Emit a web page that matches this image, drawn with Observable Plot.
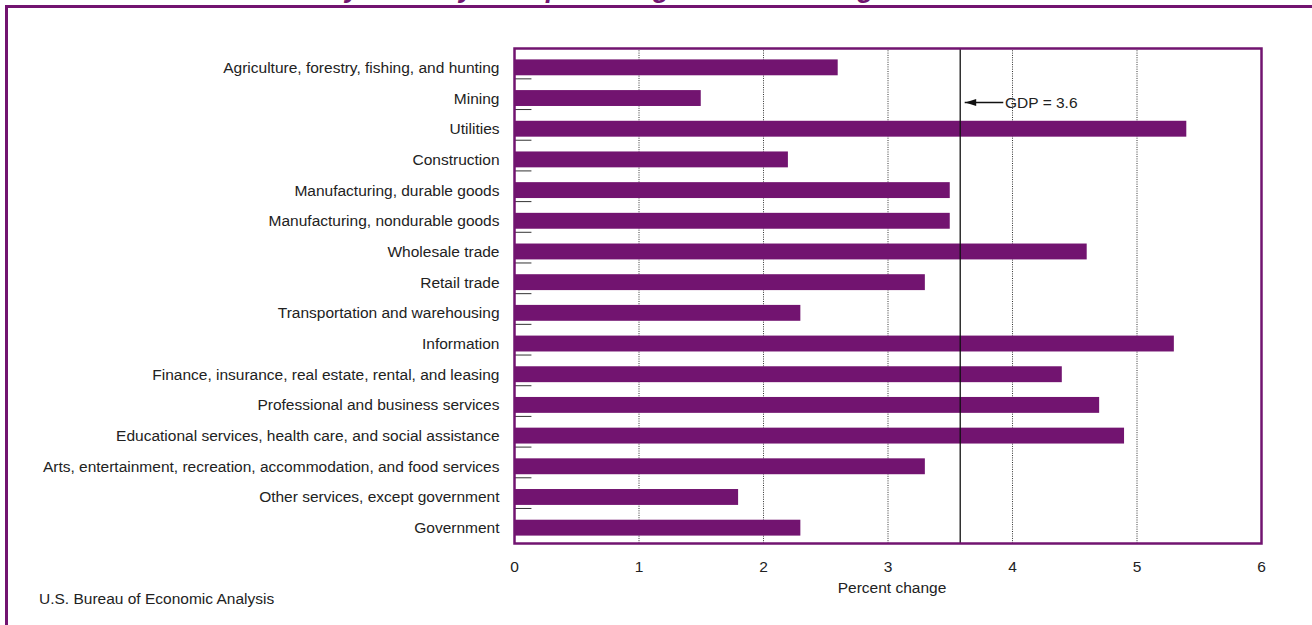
<!DOCTYPE html>
<html>
<head>
<meta charset="utf-8">
<script src="https://cdn.jsdelivr.net/npm/d3@7"></script>
<script src="https://cdn.jsdelivr.net/npm/@observablehq/plot@0.6"></script>
<style>
  html, body { margin: 0; padding: 0; background: #fff; overflow: hidden; }
  #wrap { position: relative; width: 1312px; height: 625px; overflow: hidden; font-family: "Liberation Sans", Arial, sans-serif; }
  #title { position: absolute; left: 95px; top: -25px; white-space: nowrap; font: italic bold 27px "Liberation Sans", Arial, sans-serif; line-height: 27px; color: #721470; }
  #border { position: absolute; left: 5px; top: 5px; width: 1400px; height: 700px; border: 3px solid #721470; }
  #chart { position: absolute; left: 0; top: 0; }
  #source { position: absolute; left: 39px; top: 590px; font-size: 15.5px; line-height: 18px; color: #222; white-space: nowrap; }
</style>
</head>
<body>
<div id="wrap">
  <div id="border"></div>
  <div id="title"></div>
  <div id="chart"></div>
  <div id="source"></div>
</div>
<script>
// ---- data ----
const titleText = "Real Value Added by Industry Group: Average Annual Change";
const sourceText = "U.S. Bureau of Economic Analysis";
const xLabel = "Percent change";

const categories = [
  "Agriculture, forestry, fishing, and hunting",
  "Mining",
  "Utilities",
  "Construction",
  "Manufacturing, durable goods",
  "Manufacturing, nondurable goods",
  "Wholesale trade",
  "Retail trade",
  "Transportation and warehousing",
  "Information",
  "Finance, insurance, real estate, rental, and leasing",
  "Professional and business services",
  "Educational services, health care, and social assistance",
  "Arts, entertainment, recreation, accommodation, and food services",
  "Other services, except government",
  "Government"
];
const values = [2.6, 1.5, 5.4, 2.2, 3.5, 3.5, 4.6, 3.3, 2.3, 5.3, 4.4, 4.7, 4.9, 3.3, 1.8, 2.3];

const xDomain = [0, 6];
const xTicks = [0, 1, 2, 3, 4, 5, 6];
const gridTicks = [1, 2, 3, 4, 5];

const gdpValue = 3.58;
const gdpLabel = "GDP = 3.6";
const annotationCategory = ["Mining"];
const arrowTip = [3.62];
const arrowTail = [3.93];
const labelX = [3.94];

// ---- styles ----
const purple = "#721470";
const ink = "#222";
const tickLen = 0.14;
const fs = 15.5;
const barInset = 7.4;

document.getElementById("title").textContent = titleText;
document.getElementById("source").textContent = sourceText;

const data = categories.map((c, i) => ({industry: c, value: values[i]}));
const annotation = annotationCategory.map((c, i) => ({
  y: c, tip: arrowTip[i], tail: arrowTail[i], lx: labelX[i], label: gdpLabel
}));

const chart = Plot.plot({
  width: 1312,
  height: 625,
  marginLeft: 514,
  marginRight: 51,
  marginTop: 48,
  marginBottom: 82,
  style: {
    fontFamily: '"Liberation Sans", Arial, sans-serif',
    fontSize: fs + "px",
    color: ink,
    background: "transparent",
    overflow: "visible"
  },
  x: {domain: xDomain, ticks: xTicks},
  y: {type: "band", domain: categories, padding: 0, round: false, insetTop: 4},
  marks: [
    Plot.gridX(gridTicks, {stroke: "#333", strokeOpacity: 1, strokeWidth: 1, strokeDasharray: "1,1.3"}),
    Plot.barX(data, {x: "value", y: "industry", fill: purple, insetTop: barInset, insetBottom: barInset}),
    Plot.ruleY(categories.slice(0, -1), {y: d => d, x1: 0, x2: tickLen, dy: 11, stroke: "#333", strokeWidth: 1}),
    Plot.ruleX([gdpValue], {stroke: "#111", strokeWidth: 1.3}),
    Plot.ruleY(annotation, {y: "y", x1: "tip", x2: "tail", dy: 4, stroke: "#111", strokeWidth: 1.5}),
    Plot.vector(annotation, {x: "tip", y: "y", length: 11, rotate: -90, shape: "spike", r: 3.5, anchor: "end", fill: "#111", stroke: "none", dy: 4}),
    Plot.text(annotation, {x: "lx", y: "y", text: "label", textAnchor: "start", dy: 4, fill: ink, fontSize: fs}),
    Plot.axisX(xTicks, {tickSize: 0, tickPadding: 17, label: null, fill: ink, tickFormat: d => String(d)}),
    Plot.text([xLabel], {frameAnchor: "bottom", text: d => d, dy: 49, dx: 4, fill: ink, fontSize: fs}),
    Plot.axisY({tickSize: 0, tickPadding: 15, label: null, fill: ink}),
    Plot.frame({stroke: purple, strokeWidth: 2.5})
  ]
});
document.getElementById("chart").appendChild(chart);
</script>
</body>
</html>
